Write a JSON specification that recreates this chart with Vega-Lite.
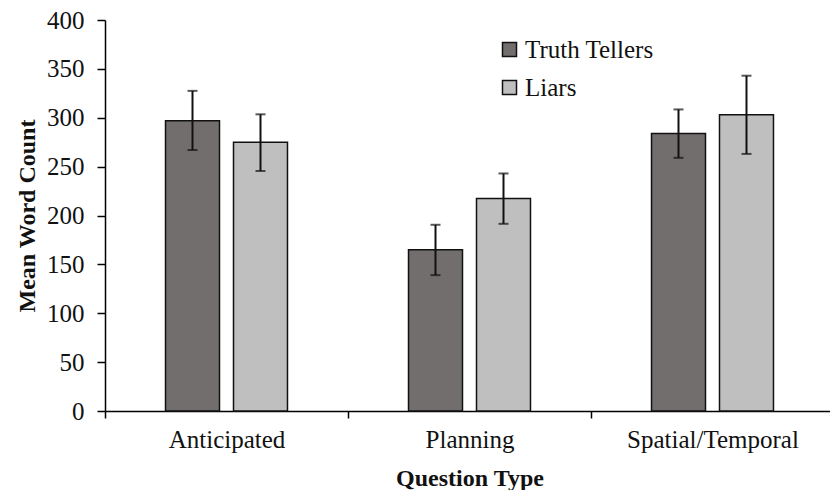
{
  "$schema": "https://vega.github.io/schema/vega-lite/v6.json",
  "width": 725,
  "height": 391,
  "autosize": "none",
  "padding": {"left": 105, "top": 20, "right": 0, "bottom": 79},
  "background": "white",
  "config": {
    "view": {"stroke": null},
    "font": "Liberation Serif",
    "axis": {"grid": false, "domainColor": "#000", "tickColor": "#000", "domainWidth": 1.5, "tickWidth": 1.5},
    "legend": {"labelFont": "Liberation Serif"}
  },
  "data": {
    "values": [
      {"question": "Anticipated", "group": "Truth Tellers", "mean": 297, "lo": 267, "hi": 327.5},
      {"question": "Anticipated", "group": "Liars", "mean": 275, "lo": 245.5, "hi": 303.5},
      {"question": "Planning", "group": "Truth Tellers", "mean": 165, "lo": 139, "hi": 190.5},
      {"question": "Planning", "group": "Liars", "mean": 217.5, "lo": 191.5, "hi": 243},
      {"question": "Spatial/Temporal", "group": "Truth Tellers", "mean": 284, "lo": 259, "hi": 308.5},
      {"question": "Spatial/Temporal", "group": "Liars", "mean": 303, "lo": 263, "hi": 343}
    ]
  },
  "encoding": {
    "x": {
      "field": "question", "type": "nominal", "sort": ["Anticipated", "Planning", "Spatial/Temporal"],
      "scale": {"paddingInner": 0, "paddingOuter": 0, "range": [0, 729]},
      "axis": {"title": "Question Type", "labelAngle": 0, "tickOffset": -121.5, "labelOffset": 121.5, "tickSize": 7, "labelPadding": 9, "titlePadding": 14,
        "labelFont": "Liberation Serif", "labelFontSize": 25, "labelColor": "#111",
        "titleFont": "Liberation Serif", "titleFontSize": 24, "titleFontWeight": "bold", "titleColor": "#111"}
    },
    "xOffset": {
      "field": "group", "type": "nominal", "sort": ["Truth Tellers", "Liars"],
      "scale": {"paddingInner": 0.206, "paddingOuter": 0.89}
    }
  },
  "layer": [
    {
      "mark": {"type": "bar", "stroke": "#111", "strokeWidth": 1.5},
      "encoding": {
        "y": {
          "field": "mean", "type": "quantitative",
          "scale": {"domain": [0, 400]},
          "axis": {"title": "Mean Word Count", "values": [0, 50, 100, 150, 200, 250, 300, 350, 400], "tickSize": 8, "labelPadding": 13, "titlePadding": 7,
            "labelFont": "Liberation Serif", "labelFontSize": 25, "labelColor": "#111",
            "titleFont": "Liberation Serif", "titleFontSize": 24, "titleFontWeight": "bold", "titleColor": "#111"}
        },
        "color": {
          "field": "group", "type": "nominal", "sort": ["Truth Tellers", "Liars"],
          "scale": {"domain": ["Truth Tellers", "Liars"], "range": ["#736e6e", "#bfbfbf"]},
          "legend": {
            "title": null, "orient": "none", "legendX": 392, "legendY": 17,
            "symbolType": "square", "symbolSize": 196, "symbolStrokeColor": "#111", "symbolStrokeWidth": 1.5,
            "labelFont": "Liberation Serif", "labelFontSize": 25, "labelColor": "#111", "labelOffset": 3, "rowPadding": 12
          }
        }
      }
    },
    {
      "mark": {"type": "rule", "color": "#111", "strokeWidth": 2},
      "encoding": {
        "y": {"field": "lo", "type": "quantitative"},
        "y2": {"field": "hi"}
      }
    },
    {
      "mark": {"type": "tick", "color": "#111", "thickness": 2, "size": 10},
      "encoding": {"y": {"field": "lo", "type": "quantitative"}}
    },
    {
      "mark": {"type": "tick", "color": "#111", "thickness": 2, "size": 10},
      "encoding": {"y": {"field": "hi", "type": "quantitative"}}
    }
  ]
}
